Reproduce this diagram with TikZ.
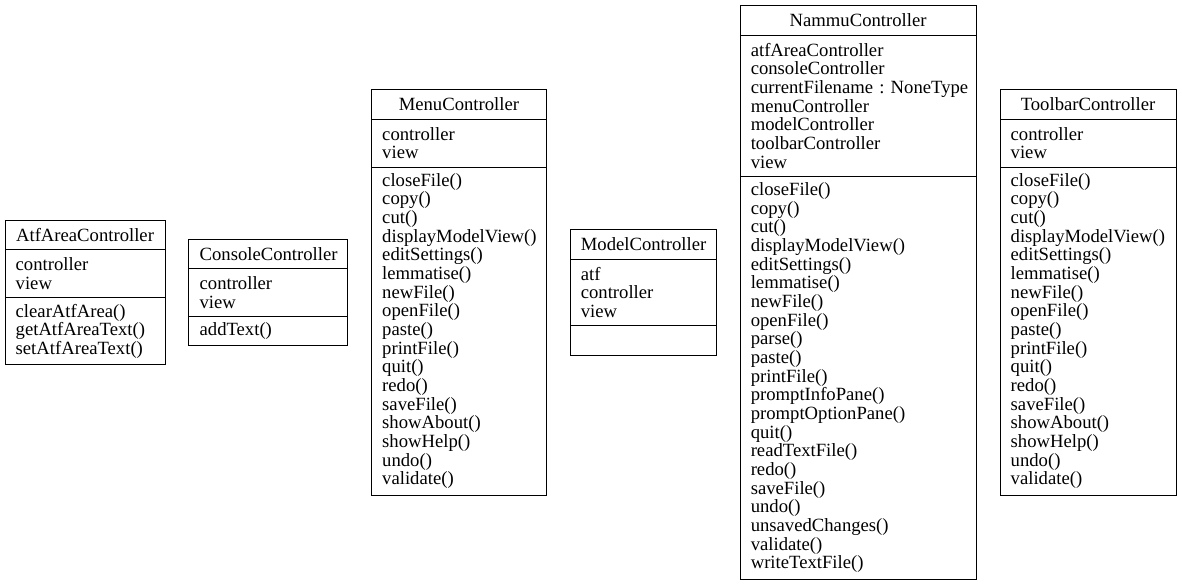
\documentclass[tikz,border=0pt]{standalone}
\usepackage{fontspec}
\setmainfont{Liberation Serif}
\usetikzlibrary{matrix,positioning}

\tikzset{
  umlclass/.style n args={3}{matrix of nodes, nodes in empty cells,
    inner sep=0pt, outer sep=0pt, row sep=-\pgflinewidth,
    nodes={draw, text width=#1, inner xsep=8pt, inner ysep=0pt, align=left,
      anchor=center, font=\fontsize{14}{14}\selectfont},
    row 1/.style={nodes={align=center, minimum height=22pt}},
    row 2/.style={nodes={minimum height={#2*14pt+8pt}}},
    row 3/.style={nodes={minimum height={#3*14pt+8pt}}}},
}

\begin{document}
\begin{tikzpicture}[line width=0.75pt]
  \useasboundingbox (0,0) rectangle (886.5pt,-438.75pt);

  \matrix[umlclass={104pt}{2}{3}, anchor=west] (atf) at (3.4pt,-219.375pt) {
    {AtfAreaController} \\
    {controller\\view} \\
    {clearAtfArea()\\getAtfAreaText()\\setAtfAreaText()} \\
  };

  \matrix[umlclass={103pt}{2}{1}, right=17.2pt of atf] (console) {
    {ConsoleController} \\
    {controller\\view} \\
    {addText()} \\
  };

  \matrix[umlclass={115pt}{2}{17}, right=17.2pt of console] (menu) {
    {MenuController} \\
    {controller\\view} \\
    {closeFile()\\copy()\\cut()\\displayModelView()\\editSettings()\\lemmatise()\\newFile()\\openFile()\\paste()\\printFile()\\quit()\\redo()\\saveFile()\\showAbout()\\showHelp()\\undo()\\validate()} \\
  };

  \matrix[umlclass={93.5pt}{3}{1}, right=17.2pt of menu] (model) {
    {ModelController} \\
    {atf\\controller\\view} \\
    {} \\
  };

  \matrix[umlclass={161pt}{7}{21}, right=17.2pt of model] (nammu) {
    {NammuController} \\
    {atfAreaController\\consoleController\\\mbox{currentFilename :\ NoneType}\\menuController\\modelController\\toolbarController\\view} \\
    {closeFile()\\copy()\\cut()\\displayModelView()\\editSettings()\\lemmatise()\\newFile()\\openFile()\\parse()\\paste()\\printFile()\\promptInfoPane()\\promptOptionPane()\\quit()\\readTextFile()\\redo()\\saveFile()\\undo()\\unsavedChanges()\\validate()\\writeTextFile()} \\
  };

  \matrix[umlclass={116pt}{2}{17}, right=17.2pt of nammu] (toolbar) {
    {ToolbarController} \\
    {controller\\view} \\
    {closeFile()\\copy()\\cut()\\displayModelView()\\editSettings()\\lemmatise()\\newFile()\\openFile()\\paste()\\printFile()\\quit()\\redo()\\saveFile()\\showAbout()\\showHelp()\\undo()\\validate()} \\
  };
\end{tikzpicture}
\end{document}
